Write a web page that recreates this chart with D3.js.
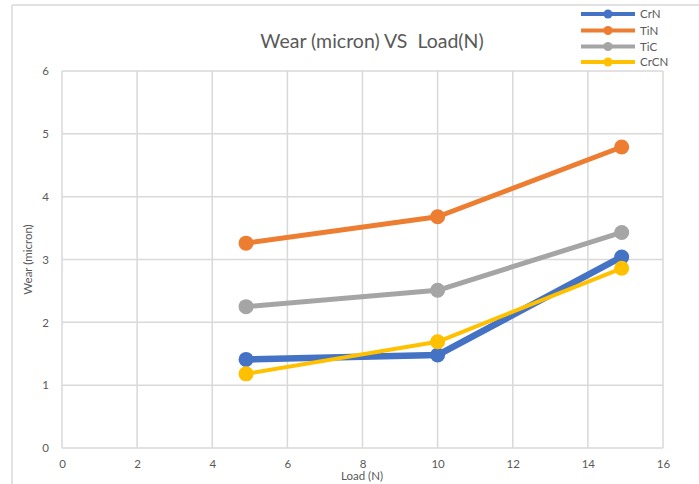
<!DOCTYPE html>
<html>
<head>
<meta charset="utf-8">
<script src="https://cdn.jsdelivr.net/npm/d3@7"></script>
<style>
  html, body { margin: 0; padding: 0; background: #fff; }
  svg { display: block; font-family: Lato, "Open Sans", sans-serif; }
</style>
</head>
<body>
<svg id="chart" width="699" height="484"></svg>
<script>
const loads = [4.9, 10, 14.9];
const seriesNames = ["CrN", "TiN", "TiC", "CrCN"];
const crnValues = [1.41, 1.48, 3.04];
const tinValues = [3.26, 3.68, 4.79];
const ticValues = [2.25, 2.51, 3.43];
const crcnValues = [1.18, 1.69, 2.86];
const seriesColors = ["#4472C4", "#ED7D31", "#A5A5A5", "#FFC000"];
const seriesWidths = [6.5, 5, 5, 4];
const xTicks = [0, 2, 4, 6, 8, 10, 12, 14, 16];
const yTicks = [0, 1, 2, 3, 4, 5, 6];
const titleText = "Wear (micron) VS  Load(N)";
const xTitle = "Load (N)";
const yTitle = "Wear (micron)";

const series = [crnValues, tinValues, ticValues, crcnValues].map((vals, i) => ({
  name: seriesNames[i], color: seriesColors[i], width: seriesWidths[i],
  points: vals.map((v, j) => ({ x: loads[j], y: v }))
}));

const svg = d3.select("#chart");
const plot = { left: 62, right: 663, top: 71, bottom: 448 };

const x = d3.scaleLinear().domain([0, 16]).range([plot.left, plot.right]);
const y = d3.scaleLinear().domain([0, 6]).range([plot.bottom, plot.top]);

// outer frame
svg.append("line").attr("x1", 12).attr("x2", 12).attr("y1", 5).attr("y2", 484)
  .attr("stroke", "#d9d9d9").attr("stroke-width", 1.5);
svg.append("line").attr("x1", 12).attr("x2", 699).attr("y1", 5).attr("y2", 5)
  .attr("stroke", "#d9d9d9").attr("stroke-width", 1.5);

// gridlines
svg.append("g").selectAll("line").data(xTicks).join("line")
  .attr("x1", d => x(d)).attr("x2", d => x(d))
  .attr("y1", plot.top).attr("y2", plot.bottom)
  .attr("stroke", "#d9d9d9").attr("stroke-width", 1.5);
svg.append("g").selectAll("line").data(yTicks).join("line")
  .attr("x1", plot.left).attr("x2", plot.right)
  .attr("y1", d => y(d)).attr("y2", d => y(d))
  .attr("stroke", "#d9d9d9").attr("stroke-width", 1.5);

// axes labels via d3 axes
const xAxis = svg.append("g").attr("transform", `translate(0,${plot.bottom})`)
  .call(d3.axisBottom(x).tickValues(xTicks).tickFormat(d3.format("d")).tickSize(0).tickPadding(12));
xAxis.select(".domain").remove();
xAxis.selectAll("text").attr("fill", "#595959").attr("font-size", 11.5)
  .attr("font-family", "Lato, sans-serif");

const yAxis = svg.append("g").attr("transform", `translate(${plot.left},0)`)
  .call(d3.axisLeft(y).tickValues(yTicks).tickFormat(d3.format("d")).tickSize(0).tickPadding(13));
yAxis.select(".domain").remove();
yAxis.selectAll("text").attr("fill", "#595959").attr("font-size", 11.5)
  .attr("font-family", "Lato, sans-serif");

// titles
svg.append("text").attr("x", 372).attr("y", 48).attr("text-anchor", "middle")
  .attr("fill", "#595959").attr("font-size", 19.5).style("white-space", "pre")
  .attr("xml:space", "preserve").text(titleText);
svg.append("text").attr("x", 362).attr("y", 480).attr("text-anchor", "middle")
  .attr("fill", "#595959").attr("font-size", 11.5).text(xTitle);
svg.append("text").attr("transform", `translate(32,${(plot.top + plot.bottom) / 2}) rotate(-90)`)
  .attr("text-anchor", "middle").attr("fill", "#595959").attr("font-size", 11.5).text(yTitle);

// series
const line = d3.line().x(d => x(d.x)).y(d => y(d.y));
series.forEach(s => {
  const g = svg.append("g");
  g.append("path").datum(s.points).attr("d", line).attr("fill", "none")
    .attr("stroke", s.color).attr("stroke-width", s.width)
    .attr("stroke-linejoin", "round").attr("stroke-linecap", "round");
  g.selectAll("circle").data(s.points).join("circle")
    .attr("cx", d => x(d.x)).attr("cy", d => y(d.y)).attr("r", 7.5)
    .attr("fill", s.color);
});

// legend
const legend = svg.append("g");
legend.append("rect").attr("x", 575).attr("y", 6).attr("width", 124).attr("height", 63)
  .attr("fill", "#fff");
const legendY = [14, 30.5, 46.5, 62];
series.forEach((s, i) => {
  const gy = legendY[i];
  legend.append("line").attr("x1", 581).attr("x2", 635).attr("y1", gy).attr("y2", gy)
    .attr("stroke", s.color).attr("stroke-width", 4);
  legend.append("circle").attr("cx", 608).attr("cy", gy).attr("r", 4.5).attr("fill", s.color);
  legend.append("text").attr("x", 640).attr("y", gy + 4).attr("fill", "#595959")
    .attr("font-size", 11.5).text(s.name);
});
</script>
</body>
</html>
